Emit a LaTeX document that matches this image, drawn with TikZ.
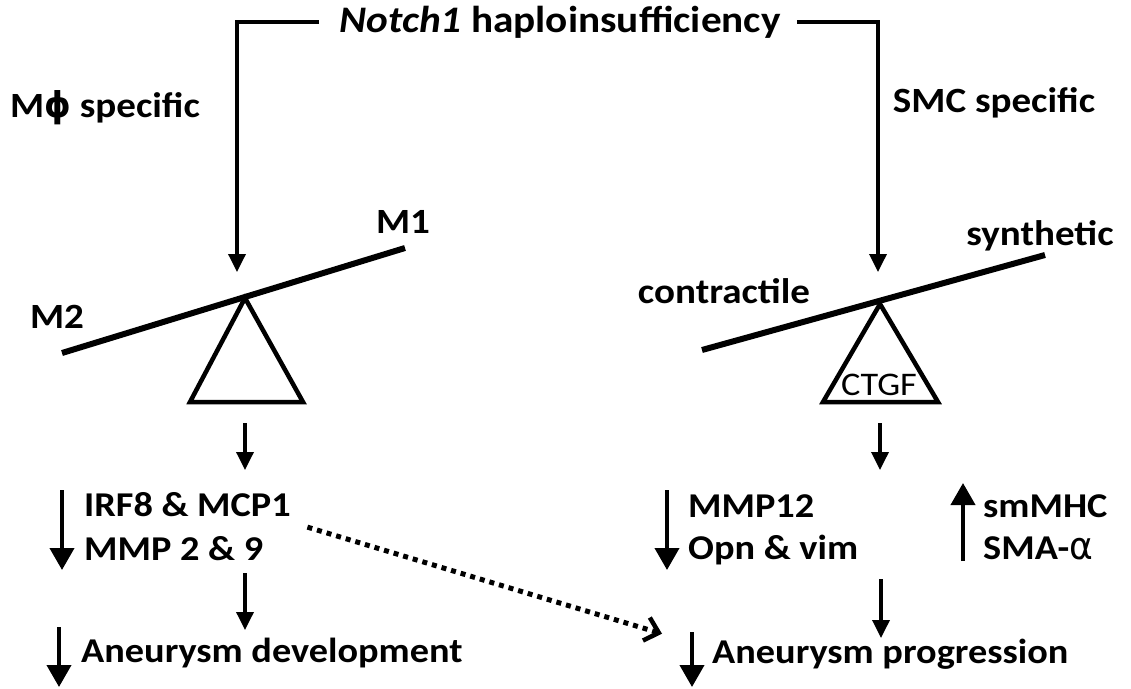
\documentclass[tikz,border=0pt]{standalone}
\usepackage{fontspec}
\setmainfont{Carlito}[FakeStretch=1.1]
\newfontfamily\greekfont{DejaVu Sans}[FakeStretch=0.95]
\usetikzlibrary{arrows.meta}

\tikzset{
  lbl/.style={font=\fontsize{35.5}{40}\selectfont\bfseries, inner sep=0pt, anchor=base},
  lblrow/.style={lbl, anchor=base west, font=\fontsize{34.8}{40}\selectfont\bfseries},
  flow/.style={line width=3.5pt, line join=miter,
    -{Triangle[length=18pt,width=17pt]}},
  trend/.style={line width=4pt, -{Triangle[length=22pt,width=24pt]}},
  beam/.style={line width=6pt},
  pivot/.style={line width=4.5pt, line join=miter},
  hint/.style={line width=5pt, dash pattern=on 5pt off 5pt,
    -{Straight Barb[length=13pt,width=24pt,line width=4.5pt]}}
}

\begin{document}
\begin{tikzpicture}[x=1pt,y=-1pt]
\useasboundingbox (0,0) rectangle (1131,688);

  %% title and the two branches
  \node[lbl, font=\fontsize{37.5}{42}\selectfont\bfseries] (notch) at (560,32)
    {\textit{Notch1} haploinsufficiency};
  \node[lbl] (mspec) at (105,117) {M{\greekfont ϕ} specific};
  \node[lbl] (sspec) at (994,112) {SMC specific};
  \coordinate (ltip) at (237,272);
  \coordinate (rtip) at (878,272);
  \draw[flow] ([xshift=-20pt]notch.west) -| (ltip);
  \draw[flow] ([xshift=16pt]notch.east) -| (rtip);

  %% macrophage seesaw
  \coordinate (lapex) at (245,298);
  \draw[beam] (62,353) -- (405,248);
  \draw[pivot] (lapex) -- (190,402) -- (303,402) -- cycle;
  \node[lbl] (mone) at (403,233) {M1};
  \node[lbl] (mtwo) at (57,328) {M2};

  %% SMC seesaw
  \coordinate (rapex) at (880,304);
  \draw[beam] (702,350) -- (1045,255);
  \draw[pivot] (rapex) -- (823,402) -- (938,402) -- cycle;
  \node[lbl, font=\fontsize{33}{36}\selectfont] (ctgf) at (879,395) {CTGF};
  \node[lbl] (synth) at (1040,245) {synthetic};
  \node[lbl] (contr) at (724,303) {contractile};

  %% arrows below the pivots
  \coordinate (lsrc) at (245,423);
  \coordinate (ldst) at (245,470);
  \coordinate (rsrc) at (880,423);
  \coordinate (rdst) at (880,470);
  \draw[flow] (lsrc) -- (ldst);
  \draw[flow] (rsrc) -- (rdst);

  %% left outcome
  \node[lblrow] (lirf) at (84,516) {IRF8 \& MCP1};
  \node[lblrow] (lmmp) at (84,560) {MMP 2 \& 9};
  \draw[trend] (62,490) -- (62,570);
  \node[lblrow] (ldev) at (81,662) {Aneurysm development};
  \draw[trend] (59,627) -- (59,687);
  \draw[flow] (245,573) -- (245,630);

  %% right outcome
  \node[lblrow] (rmmp) at (688,517) {MMP12};
  \node[lblrow] (ropn) at (688,559) {Opn \& vim};
  \draw[trend] (667,490) -- (667,570);
  \node[lblrow] (rsm) at (983,517) {smMHC};
  \node[lblrow] (rsma) at (983,559) {SMA-{\greekfont\mdseries\fontsize{38}{40}\selectfont α}};
  \draw[trend] (963,561) -- (963,483);
  \node[lblrow] (rprog) at (712,663) {Aneurysm progression};
  \draw[trend] (692,632) -- (692,687);
  \draw[flow] (881,579) -- (881,638);

  %% dotted link
  \draw[hint] ([xshift=44pt,yshift=21pt]lmmp.east) -- ([xshift=-50pt,yshift=20pt]rprog.west);

\end{tikzpicture}
\end{document}
